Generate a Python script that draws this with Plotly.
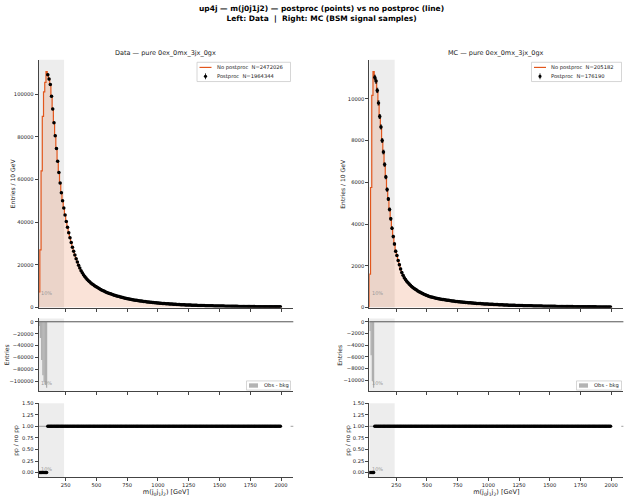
import numpy as np
import plotly.graph_objects as go

# ---------------- data ----------------
bin_edges = list(range(30, 2001, 10))          # 10 GeV bins, 30 .. 2000
x_range = [30, 2100]
shade_hi = 237                                  # edge of grey "10%" band

data_nopp = [
    7300, 27000, 64000, 89500, 101000, 105500, 110500, 109000, 107000, 104500,
    99000, 93000, 86500, 80500, 74500, 68500, 63300, 58300, 53800, 50000,
    46600, 43400, 40300, 37600, 35100, 32700, 30500, 28300, 26400, 24600,
    22900, 21300, 19800, 18500, 17300, 16300, 15400, 14600, 13900, 13200,
    12600, 12050, 11550, 11080, 10650, 10230, 9850, 9480, 9130, 8800,
    8480, 8180, 7900, 7620, 7360, 7110, 6880, 6650, 6430, 6220,
    6020, 5830, 5650, 5470, 5300, 5140, 4980, 4830, 4690, 4550,
    4410, 4280, 4160, 4040, 3920, 3810, 3700, 3600, 3500, 3400,
    3310, 3220, 3130, 3050, 2970, 2890, 2810, 2740, 2670, 2600,
    2530, 2470, 2410, 2350, 2290, 2230, 2180, 2120, 2070, 2020,
    1970, 1920, 1880, 1830, 1790, 1750, 1710, 1670, 1630, 1590,
    1550, 1520, 1480, 1450, 1420, 1390, 1360, 1330, 1300, 1270,
    1240, 1220, 1190, 1170, 1140, 1120, 1100, 1070, 1050, 1030,
    1010, 990, 970, 950, 935, 915, 900, 880, 865, 850,
    835, 820, 805, 790, 775, 760, 750, 735, 720, 710,
    695, 685, 672, 660, 650, 638, 628, 617, 607, 597,
    587, 577, 568, 559, 550, 541, 532, 524, 516, 508,
    500, 492, 485, 477, 470, 463, 456, 449, 443, 436,
    430, 424, 418, 412, 406, 400, 395, 389, 384, 379,
    374, 369, 364, 359, 354, 350, 345,
]
data_zero_pp_bins = 7      # postproc removes the first 7 bins, identical above

mc_nopp = [
    1600, 5750, 10160, 11300, 11020, 10850, 10400, 9800, 9150, 8650,
    8000, 7450, 6850, 6250, 5650, 5200, 4700, 4250, 3800, 3400,
    3050, 2700, 2500, 2250, 2050, 1850, 1680, 1550, 1430, 1340,
    1260, 1190, 1130, 1070, 1010, 960, 920, 880, 840, 800,
    760, 730, 700, 670, 640, 615, 590, 565, 545, 525,
    505, 490, 478, 462, 452, 437, 428, 414, 405, 392,
    384, 372, 365, 353, 347, 335, 330, 319, 314, 303,
    298, 289, 285, 275, 272, 263, 260, 251, 248, 240,
    236, 229, 227, 219, 217, 210, 208, 201, 199, 193,
    191, 185, 184, 177, 176, 170, 168, 163, 162, 156,
    155, 150, 148, 144, 143, 138, 137, 133, 132, 128,
    127, 123, 122, 118, 117, 114, 113, 109, 108, 105,
    104, 101, 100, 97, 96, 94, 93, 90, 89, 87,
    86, 84, 83, 81, 80, 78, 77, 76, 74, 73,
    72, 70, 69, 68, 67, 66, 65, 64, 62, 61,
    60, 59, 58, 57, 56, 55, 55, 54, 53, 52,
    51, 50, 49, 49, 48, 47, 46, 46, 45, 44,
    43, 43, 42, 41, 41, 40, 39, 39, 38, 38,
    37, 36, 36, 35, 35, 34, 34, 33, 33, 32,
    32, 31, 31, 30, 30, 29, 29,
]
mc_zero_pp_bins = 4

main_titles = ["Data — pure 0ex_0mx_3jx_0gx", "MC — pure 0ex_0mx_3jx_0gx"]
nopp_labels = ["No postproc\u00a0 N=2472026", "No postproc\u00a0 N=205182"]
pp_labels = ["Postproc\u00a0 N=1964344", "Postproc\u00a0 N=176190"]
diff_label = "Obs - bkg"
y_titles = ["Entries / 10 GeV", "Entries", "pp / no pp"]
x_title = "m(j<sub>0</sub>j<sub>1</sub>j<sub>2</sub>) [GeV]"
suptitle_lines = ["up4j — m(j0j1j2) — postproc (points) vs no postproc (line)",
                  "Left: Data\u00a0 |\u00a0 Right: MC (BSM signal samples)"]

x_ticks = [250, 500, 750, 1000, 1250, 1500, 1750, 2000]
main_ticks = [[0, 20000, 40000, 60000, 80000, 100000], [0, 2000, 4000, 6000, 8000, 10000]]
diff_ticks = [[0, -20000, -40000, -60000, -80000, -100000], [0, -2000, -4000, -6000, -8000, -10000]]
diff_ticktext = [["0", "−20000", "−40000", "−60000", "−80000", "−100000"],
                 ["0", "−2000", "−4000", "−6000", "−8000", "−10000"]]
ratio_ticks = [0, 0.25, 0.5, 0.75, 1.0, 1.25, 1.5]
ratio_ticktext = ["0.00", "0.25", "0.50", "0.75", "1.00", "1.25", "1.50"]

# ---------------- style ----------------
W, H = 626, 500
FONT = "DejaVu Sans"
LINE_C = "#e2561c"
FILL_C = "rgba(230,115,60,0.20)"
SHADE_C = "rgba(0,0,0,0.07)"
BAR_C = "rgba(140,140,140,0.65)"
AX_C = "#444444"
TXT_C = "#222222"
TICK_FS = 5.2
EPS = 1e-9   # nudge for ticks sitting exactly on 0

cols_px = [(38.6, 293.3), (369.3, 623.4)]
rows_px = [(57.5, 308.3), (319.3, 392.7), (405.0, 480.0)]
# y-axis title centre x (pixels) per column / row
ytitle_x = [[12.5, 6.5, 16.5], [343.0, 340.0, 348.5]]
# legend boxes (pixel layout): main (x0, x1, y0, y1), diff (x0, x1, y0, y1)
main_leg_px = [(197.0, 290.5, 60.0, 79.5), (531.5, 621.5, 60.0, 79.5)]
diff_leg_px = [(246.5, 290.5, 382.5, 391.8), (576.5, 621.5, 382.5, 391.8)]


def xd(a, b):
    return [a / W, b / W]


def yd(t, b):
    return [1 - b / H, 1 - t / H]


def px(xp):
    return xp / W


def py(yp):
    return 1 - yp / H


edges = np.array(bin_edges, dtype=float)
centers = 0.5 * (edges[:-1] + edges[1:])

fig = go.Figure()
layout = dict(
    width=W, height=H, margin=dict(l=0, r=0, t=0, b=0),
    paper_bgcolor="white", plot_bgcolor="white", showlegend=False,
    font=dict(family=FONT, size=6, color=TXT_C),
    shapes=[], annotations=[],
)
shapes = layout["shapes"]
annots = layout["annotations"]

series = [(data_nopp, data_zero_pp_bins), (mc_nopp, mc_zero_pp_bins)]

for c in range(2):
    nopp = np.array(series[c][0], dtype=float)
    nz = series[c][1]
    pp = nopp.copy()
    pp[:nz] = 0.0
    diff = pp - nopp
    ratio = pp / nopp

    idx = [c * 3 + r + 1 for r in range(3)]
    xa = ["x" if i == 1 else f"x{i}" for i in idx]
    ya = ["y" if i == 1 else f"y{i}" for i in idx]
    main_max = nopp.max() * 1.05
    dmin = diff.min()
    yranges = [[0, main_max], [dmin * 1.05, -dmin * 0.05], [-0.1, 1.5]]
    ytv = [[v if v != 0 else EPS * main_max for v in main_ticks[c]],
           [v if v != 0 else -EPS * main_max for v in diff_ticks[c]],
           ratio_ticks]
    ytt = [[str(v) for v in main_ticks[c]], diff_ticktext[c], ratio_ticktext]

    for r in range(3):
        i = idx[r]
        xk = "xaxis" if i == 1 else f"xaxis{i}"
        yk = "yaxis" if i == 1 else f"yaxis{i}"
        layout[xk] = dict(
            domain=xd(*cols_px[c]), anchor=ya[r], range=x_range,
            tickvals=x_ticks, ticktext=[str(v) for v in x_ticks],
            showticklabels=(r == 2), ticks="outside",
            ticklen=3, tickwidth=0.8, tickcolor=AX_C, showline=True,
            linecolor=AX_C, linewidth=0.8, showgrid=False, zeroline=False,
            tickfont=dict(size=TICK_FS), ticklabeloverflow="allow",
        )
        layout[yk] = dict(
            domain=yd(*rows_px[r]), anchor=xa[r], range=yranges[r],
            tickvals=ytv[r], ticktext=ytt[r],
            ticks="outside", ticklen=3, tickwidth=0.8, tickcolor=AX_C,
            showline=True, linecolor=AX_C, linewidth=0.8, showgrid=False,
            zeroline=False, tickfont=dict(size=TICK_FS), ticklabeloverflow="allow",
        )
        if r == 2:
            layout[xk]["title"] = dict(text=x_title, font=dict(size=6.5), standoff=1)
        # y-axis title (rotated text)
        top, bot = rows_px[r]
        annots.append(dict(
            text=y_titles[r], xref="paper", yref="paper", x=px(ytitle_x[c][r]),
            y=py((top + bot) / 2), textangle=-90, xanchor="center", yanchor="middle",
            showarrow=False, font=dict(size=6, color=TXT_C)))
        # grey band
        shapes.append(dict(
            type="rect", xref=xa[r], yref=f"{ya[r]} domain", x0=x_range[0], x1=shade_hi,
            y0=0, y1=1, fillcolor=SHADE_C, line=dict(width=0), layer="below"))
        annots.append(dict(
            text="10%", xref=xa[r], yref=f"{ya[r]} domain", x=x_range[0] + 4, y=0.04,
            xanchor="left", yanchor="bottom", showarrow=False,
            font=dict(size=5, color="#999999")))

    # main: step histogram with fill
    sx = np.concatenate([[edges[0]], edges])
    sy = np.concatenate([[0.0], nopp, [0.0]])
    fig.add_trace(go.Scatter(x=sx, y=sy, mode="lines", line=dict(shape="hv", width=0),
                             fill="tozeroy", fillcolor=FILL_C, hoverinfo="skip",
                             xaxis=xa[0], yaxis=ya[0]))
    fig.add_trace(go.Scatter(x=sx, y=sy, mode="lines", line=dict(shape="hv", width=1.2, color=LINE_C),
                             name=nopp_labels[c], xaxis=xa[0], yaxis=ya[0]))
    m = pp > 0
    fig.add_trace(go.Scatter(x=centers[m], y=pp[m], mode="markers",
                             marker=dict(color="black", size=3.5),
                             error_y=dict(type="data", array=np.sqrt(pp[m]), color="black",
                                          thickness=0.8, width=1),
                             name=pp_labels[c], xaxis=xa[0], yaxis=ya[0]))
    # diff
    fig.add_trace(go.Bar(x=centers, y=diff, width=10, marker=dict(color=BAR_C, line=dict(width=0)),
                         name=diff_label, xaxis=xa[1], yaxis=ya[1]))
    shapes.append(dict(type="line", xref=f"{xa[1]} domain", yref=ya[1], x0=0, x1=1,
                       y0=0, y1=0, line=dict(color="#555555", width=1), layer="below"))
    # ratio
    shapes.append(dict(type="line", xref=f"{xa[2]} domain", yref=ya[2], x0=0, x1=1,
                       y0=1, y1=1, line=dict(color="#888888", width=0.8, dash="dash"), layer="below"))
    fig.add_trace(go.Scatter(x=centers, y=ratio, mode="markers",
                             marker=dict(color="black", size=3.5),
                             xaxis=xa[2], yaxis=ya[2]))

    # subplot title
    annots.append(dict(
        text=main_titles[c], xref="paper", yref="paper",
        x=(cols_px[c][0] + cols_px[c][1]) / 2 / W, y=py(51),
        xanchor="center", yanchor="middle", showarrow=False, font=dict(size=6.5, color=TXT_C)))

    # ---- legend for main panel (drawn) ----
    x0, x1, y0, y1 = main_leg_px[c]
    shapes.append(dict(type="rect", xref="paper", yref="paper", x0=px(x0), x1=px(x1),
                       y0=py(y1), y1=py(y0), fillcolor="rgba(255,255,255,0.85)",
                       line=dict(color="#cccccc", width=0.8), layer="above"))
    r1, r2 = y0 + 5.2, y0 + 14.2
    shapes.append(dict(type="line", xref="paper", yref="paper", x0=px(x0 + 2.5), x1=px(x0 + 14.5),
                       y0=py(r1), y1=py(r1), line=dict(color=LINE_C, width=1.2), layer="above"))
    mx = x0 + 8.5
    shapes.append(dict(type="line", xref="paper", yref="paper", x0=px(mx), x1=px(mx),
                       y0=py(r2 - 3), y1=py(r2 + 3), line=dict(color="black", width=0.8), layer="above"))
    shapes.append(dict(type="circle", xref="paper", yref="paper", x0=px(mx - 1.6), x1=px(mx + 1.6),
                       y0=py(r2 + 1.6), y1=py(r2 - 1.6), fillcolor="black",
                       line=dict(color="black", width=0), layer="above"))
    for lab, yy in ((nopp_labels[c], r1), (pp_labels[c], r2)):
        annots.append(dict(text=lab, xref="paper", yref="paper", x=px(x0 + 17.5), y=py(yy),
                           xanchor="left", yanchor="middle", showarrow=False,
                           font=dict(size=5.2, color=TXT_C)))

    # ---- legend for diff panel (drawn) ----
    x0, x1, y0, y1 = diff_leg_px[c]
    shapes.append(dict(type="rect", xref="paper", yref="paper", x0=px(x0), x1=px(x1),
                       y0=py(y1), y1=py(y0), fillcolor="rgba(255,255,255,0.85)",
                       line=dict(color="#cccccc", width=0.8), layer="above"))
    ym = (y0 + y1) / 2
    shapes.append(dict(type="rect", xref="paper", yref="paper", x0=px(x0 + 2.5), x1=px(x0 + 11.5),
                       y0=py(ym + 2.2), y1=py(ym - 2.2), fillcolor=BAR_C,
                       line=dict(width=0), layer="above"))
    annots.append(dict(text=diff_label, xref="paper", yref="paper", x=px(x0 + 15.5), y=py(ym),
                       xanchor="left", yanchor="middle", showarrow=False,
                       font=dict(size=5.2, color=TXT_C)))

annots.append(dict(
    text="<b>" + suptitle_lines[0] + "</b><br><b>" + suptitle_lines[1] + "</b>",
    xref="paper", yref="paper", x=px(321), y=py(10.5), xanchor="center", yanchor="middle",
    showarrow=False, font=dict(size=7.5, color="black")))

fig.update_layout(**layout)
fig.write_html("out.html")
